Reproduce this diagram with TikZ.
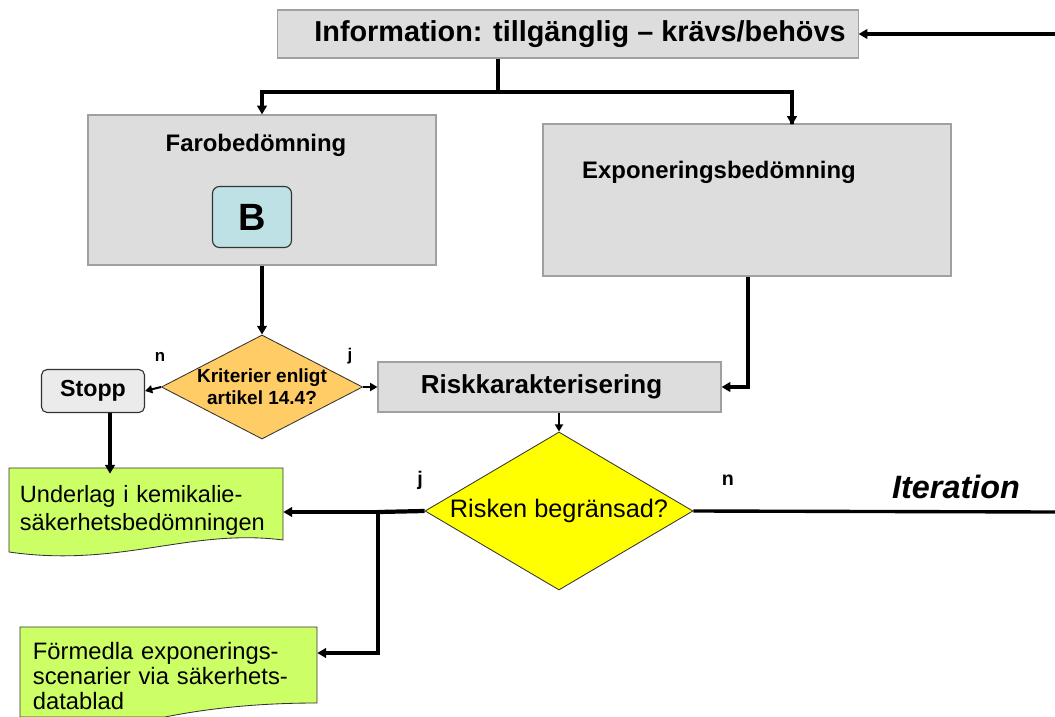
\documentclass[tikz,border=0pt]{standalone}
\usepackage{fontspec}
\setmainfont{Liberation Sans}
\usepackage{xcolor}
\usetikzlibrary{arrows.meta,positioning,calc,shapes.geometric}
\definecolor{boxgray}{HTML}{DDDDDD}
\definecolor{boxline}{HTML}{A0A0A0}
\definecolor{bteal}{HTML}{BDE1E4}
\definecolor{critorange}{HTML}{FFCC66}
\definecolor{riskyellow}{HTML}{FFFF00}
\definecolor{docgreen}{HTML}{CCFF66}

\begin{document}
\begin{tikzpicture}[
    x=0.025cm, y=-0.025cm,
    every node/.style={font=\fontsize{14}{16}\selectfont},
    box/.style={draw=boxline, fill=boxgray, line width=0.8pt,
                inner sep=0pt, align=center},
    bbox/.style={draw=black!80, fill=bteal, rounded corners=5pt,
                 line width=0.8pt, inner sep=0pt},
    stoppbox/.style={draw=black!80, fill=black!8, rounded corners=4pt,
                     line width=0.8pt, inner sep=0pt},
    dia/.style={diamond, draw=black!80, line width=0.6pt, inner sep=0pt,
                align=center},
    doc/.style={draw=black!80, line width=0.6pt, fill=docgreen},
    bold/.style={font=\bfseries\fontsize{17}{19}\selectfont},
    lbl/.style={font=\bfseries\fontsize{12}{14}\selectfont},
    arr/.style={-{Triangle[length=2.2mm, width=2.4mm]}, line width=2.4pt},
    tarr/.style={-{Triangle[length=1.8mm, width=2mm]}, line width=1.4pt},
    line/.style={line width=2.4pt}
]
\useasboundingbox (0,0) rectangle (1055,717);

% ── Information ───────────────────────────────────────────────────────────
\node[box, minimum width=14.5cm, minimum height=1.2cm,
      font=\bfseries\fontsize{20.5}{22}\selectfont] (info) at (568,34)
      {\hspace*{0.6cm}Information: tillgänglig – krävs/behövs};

% ── Farobedömning ─────────────────────────────────────────────────────────
\node[box, minimum width=8.7cm, minimum height=3.75cm] (faro) at (262,190) {};
\node[bold] (farotxt) at (256,145) {Farobedömning};
\node[bbox, minimum width=1.975cm, minimum height=1.525cm,
      font=\bfseries\fontsize{27}{29}\selectfont] (bb) at (252,217) {B};

% ── Exponeringsbedömning ──────────────────────────────────────────────────
\node[box, minimum width=10.2cm, minimum height=3.8cm] (expo) at (747,200) {};
\node[bold] (expotxt) at (719,172) {Exponeringsbedömning};

% ── Information → bedömningar ─────────────────────────────────────────────
\coordinate (split) at (498,92);
\draw[line] (info.south -| split) -- (split);
\draw[arr] (split) -| (faro.north);
\draw[arr] (split) -| (792,124) -- (792,125);

% ── Kriterier ─────────────────────────────────────────────────────────────
\node[dia, fill=critorange, aspect=2, minimum width=5cm, minimum height=2.6cm,
      font=\bfseries\fontsize{13.5}{15.5}\selectfont] (krit) at (262,387)
      {Kriterier enligt\\artikel 14.4?};
\draw[arr] (faro.south) -- (krit.north);

\node[stoppbox, minimum width=2.575cm, minimum height=1.075cm,
      font=\bfseries\fontsize{16.5}{18}\selectfont] (stopp) at (93,391) {Stopp};
\draw[tarr] (krit.west) -- (stopp.east);
\node[lbl] (kn) at (160,357) {n};
\node[lbl] (kj) at (350,356) {j};

% ── Riskkarakterisering ───────────────────────────────────────────────────
\node[box, minimum width=8.575cm, minimum height=1.25cm,
      font=\bfseries\fontsize{18.5}{20}\selectfont] (risk)
      at (549.5,387) {\hspace*{-0.4cm}Riskkarakterisering};
\draw[tarr] (krit.east) -- (risk.west);
\draw[arr] (expo.south -| 748,0) |- (risk.east);

% ── Risken begränsad? ─────────────────────────────────────────────────────
\node[dia, fill=riskyellow, aspect=1.68, minimum width=6.7cm,
      minimum height=3.95cm, font=\fontsize{18}{20}\selectfont] (rb)
      at (559,511) {Risken begränsad?};
\draw[tarr] (risk.south -| rb.north) -- (rb.north);
\node[lbl, font=\bfseries\fontsize{14}{16}\selectfont] (rj) at (420,480) {j};
\node[lbl, font=\bfseries\fontsize{14}{16}\selectfont] (rn) at (728,480) {n};

% ── Underlag ──────────────────────────────────────────────────────────────
\draw[doc] (9,468) -- (283,468) -- (283,540)
      .. controls (190,528) and (120,568) .. (9,552) -- cycle;
\node[minimum width=6.65cm, minimum height=1.8cm, inner sep=0pt,
      align=left, text width=6.5cm, font=\fontsize{16.75}{20}\selectfont]
      (underlag) at (150,510) {Underlag i kemikalie-\\säkerhetsbedömningen};
\draw[arr] (stopp.south -| 110,0) -- (underlag.north -| 110,0);

% ── Förmedla ──────────────────────────────────────────────────────────────
\draw[doc] (20,717) -- (20,627) -- (317,627) -- (317,703)
      .. controls (250,703) and (200,710) .. (165,717) -- cycle;
\node[minimum width=7.1cm, minimum height=2.25cm, inner sep=0pt,
      align=left, text width=7.1cm, font=\fontsize{16.9}{18}\selectfont]
      (formedla) at (175,676)
      {Förmedla exponerings-\\scenarier via säkerhets-\\datablad};

% ── j-gren ────────────────────────────────────────────────────────────────
\coordinate (jsplit) at (378,512);
\draw[line, line width=3pt] (rb.west) -- (jsplit);
\draw[arr] (jsplit) -- (underlag.east |- jsplit);
\draw[arr] (jsplit) |- (formedla.east |- 0,653);

% ── Iteration ─────────────────────────────────────────────────────────────
\coordinate (itr) at (1055,512);
\coordinate (itt) at (1055,34);
\draw[line] (rb.east) -- (itr);
\draw[arr] (itt) -- (info.east);
\node[font=\bfseries\itshape\fontsize{23}{25}\selectfont] (iter) at (956,487)
      {Iteration};

\end{tikzpicture}
\end{document}
